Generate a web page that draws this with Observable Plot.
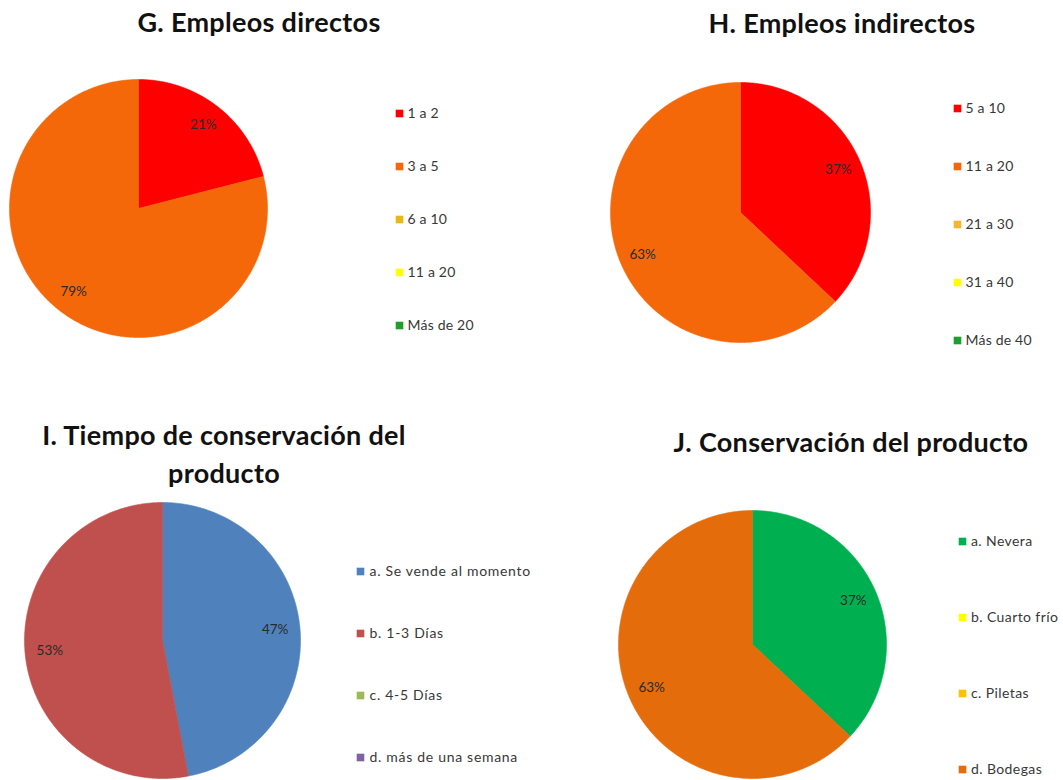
<!DOCTYPE html>
<html><head><meta charset="utf-8">
<script src="https://cdn.jsdelivr.net/npm/d3@7"></script>
<script src="https://cdn.jsdelivr.net/npm/@observablehq/plot@0.6"></script>
<style>
html,body{margin:0;padding:0;background:#fff;}
#root{position:relative;width:1063px;height:780px;overflow:hidden;font-family:Lato,"Open Sans",sans-serif;}
.title{position:absolute;font-weight:bold;color:#111;text-align:center;white-space:nowrap;transform:translateX(-50%);}
.abs{position:absolute;}
.abs svg{max-width:none !important;display:block;}
</style></head><body><div id="root"></div>
<script>
// ---- Data ----
const gTitle = ["G. Empleos directos"];
const gCategories = ["1 a 2", "3 a 5", "6 a 10", "11 a 20", "Más de 20"];
const gValues = [21, 79, 0, 0, 0];
const gColors = ["#ff0000", "#f4680a", "#e8b818", "#ffff00", "#1e9e2e"];

const hTitle = ["H. Empleos indirectos"];
const hCategories = ["5 a 10", "11 a 20", "21 a 30", "31 a 40", "Más de 40"];
const hValues = [37, 63, 0, 0, 0];
const hColors = ["#ff0000", "#f4680a", "#f2b630", "#ffff00", "#1e9e2e"];

const iTitle = ["I. Tiempo de conservación del", "producto"];
const iCategories = ["a. Se vende al momento", "b. 1-3 Días", "c. 4-5 Días", "d. más de una semana"];
const iValues = [47, 53, 0, 0];
const iColors = ["#4f81bd", "#c0504d", "#9bbb59", "#8064a2"];

const jTitle = ["J. Conservación del producto"];
const jCategories = ["a. Nevera", "b. Cuarto frío", "c. Piletas", "d. Bodegas"];
const jValues = [37, 0, 0, 63];
const jColors = ["#00b050", "#ffff00", "#ffc000", "#e46c0a"];

// ---- Layout ----
const TITLE_SIZE = 27;
const panels = [
  {title: gTitle, cats: gCategories, vals: gValues, colors: gColors,
   tx: 259, tb: [32], cx: 138, cy: 208, r: 129, lx: 399, ly0: 112, ly1: 326, ls: 0.2, dx: 8},
  {title: hTitle, cats: hCategories, vals: hValues, colors: hColors,
   tx: 842, tb: [33], cx: 740, cy: 212, r: 130, lx: 957, ly0: 107, ly1: 340, ls: 0.2, dx: 8},
  {title: iTitle, cats: iCategories, vals: iValues, colors: iColors,
   tx: 224, tb: [445, 483], cx: 162, cy: 640, r: 138, lx: 360, ly0: 570, ly1: 758, ls: 0.7, dx: 9},
  {title: jTitle, cats: jCategories, vals: jValues, colors: jColors,
   tx: 851, tb: [452], cx: 752, cy: 644, r: 134, lx: 962, ly0: 540, ly1: 769, ls: 0.4, dx: 8.5}
];

const root = document.getElementById("root");
const FONT = "Lato, 'Open Sans', sans-serif";

function piePlot(p) {
  const slices = d3.pie().sort(null).value(d => d.v)(p.cats.map((c, i) => ({c, v: p.vals[i], col: p.colors[i]})));
  const total = d3.sum(p.vals);
  const marks = [];
  const labels = [];
  for (const s of slices) {
    if (s.data.v <= 0) continue;
    const n = Math.max(2, Math.ceil((s.endAngle - s.startAngle) / (Math.PI / 360)));
    const pts = [{x: 0, y: 0}];
    for (let k = 0; k <= n; k++) {
      const a = s.startAngle + (s.endAngle - s.startAngle) * k / n;
      pts.push({x: Math.sin(a), y: Math.cos(a)});
    }
    pts.push({x: 0, y: 0});
    marks.push(Plot.line(pts, {x: "x", y: "y", fill: s.data.col, stroke: s.data.col, strokeWidth: 0.6, curve: "linear"}));
    const mid = (s.startAngle + s.endAngle) / 2;
    labels.push({x: 0.82 * Math.sin(mid), y: 0.82 * Math.cos(mid), t: Math.round(s.data.v / total * 100) + "%"});
  }
  marks.push(Plot.text(labels, {x: "x", y: "y", text: "t", fontSize: 13.5, fill: "#2a2a2a"}));
  const m = 2;
  return Plot.plot({
    width: 2 * p.r + 2 * m, height: 2 * p.r + 2 * m, margin: m,
    x: {domain: [-1, 1], axis: null}, y: {domain: [-1, 1], axis: null},
    style: {fontFamily: FONT, background: "transparent", overflow: "visible"},
    marks
  });
}

function legendPlot(p) {
  const pad = 12;
  const h = (p.ly1 - p.ly0) + 2 * pad;
  const W = 200;
  const plot = Plot.plot({
    width: W, height: h, marginTop: pad, marginBottom: pad, marginLeft: 6, marginRight: 0,
    x: {domain: [0, 1], axis: null},
    y: {type: "point", domain: p.cats, axis: null, padding: 0},
    color: {domain: p.cats, range: p.colors},
    style: {fontFamily: FONT, background: "transparent", overflow: "visible", maxWidth: "none"},
    marks: [
      Plot.dot(p.cats, {x: () => 0, y: d => d, symbol: "square", fill: d => d, r: 4.3}),
      Plot.text(p.cats, {x: () => 0, y: d => d, text: d => d, dx: p.dx, textAnchor: "start", fontSize: 14, fill: "#383838"})
    ]
  });
  plot.querySelectorAll("text").forEach(t => t.style.letterSpacing = p.ls + "px");
  return {plot, pad, W, h};
}

for (const p of panels) {
  p.title.forEach((line, i) => {
    const d = document.createElement("div");
    d.className = "title";
    d.textContent = line;
    d.style.fontSize = TITLE_SIZE + "px";
    d.style.lineHeight = TITLE_SIZE + "px";
    d.style.letterSpacing = "0.3px";
    d.style.left = p.tx + "px";
    d.style.top = (p.tb[i] - 0.887 * TITLE_SIZE) + "px";
    root.appendChild(d);
  });
  const pie = piePlot(p);
  const pd = document.createElement("div");
  pd.className = "abs";
  pd.style.left = (p.cx - p.r - 2) + "px";
  pd.style.top = (p.cy - p.r - 2) + "px";
  pd.style.width = (2 * p.r + 4) + "px";
  pd.appendChild(pie);
  root.appendChild(pd);
  const {plot, pad, W, h} = legendPlot(p);
  const ld = document.createElement("div");
  ld.className = "abs";
  ld.style.left = (p.lx - 6) + "px";
  ld.style.top = (p.ly0 - pad) + "px";
  ld.style.width = W + "px";
  ld.style.height = h + "px";
  ld.appendChild(plot);
  root.appendChild(ld);
}
</script>
</body></html>
